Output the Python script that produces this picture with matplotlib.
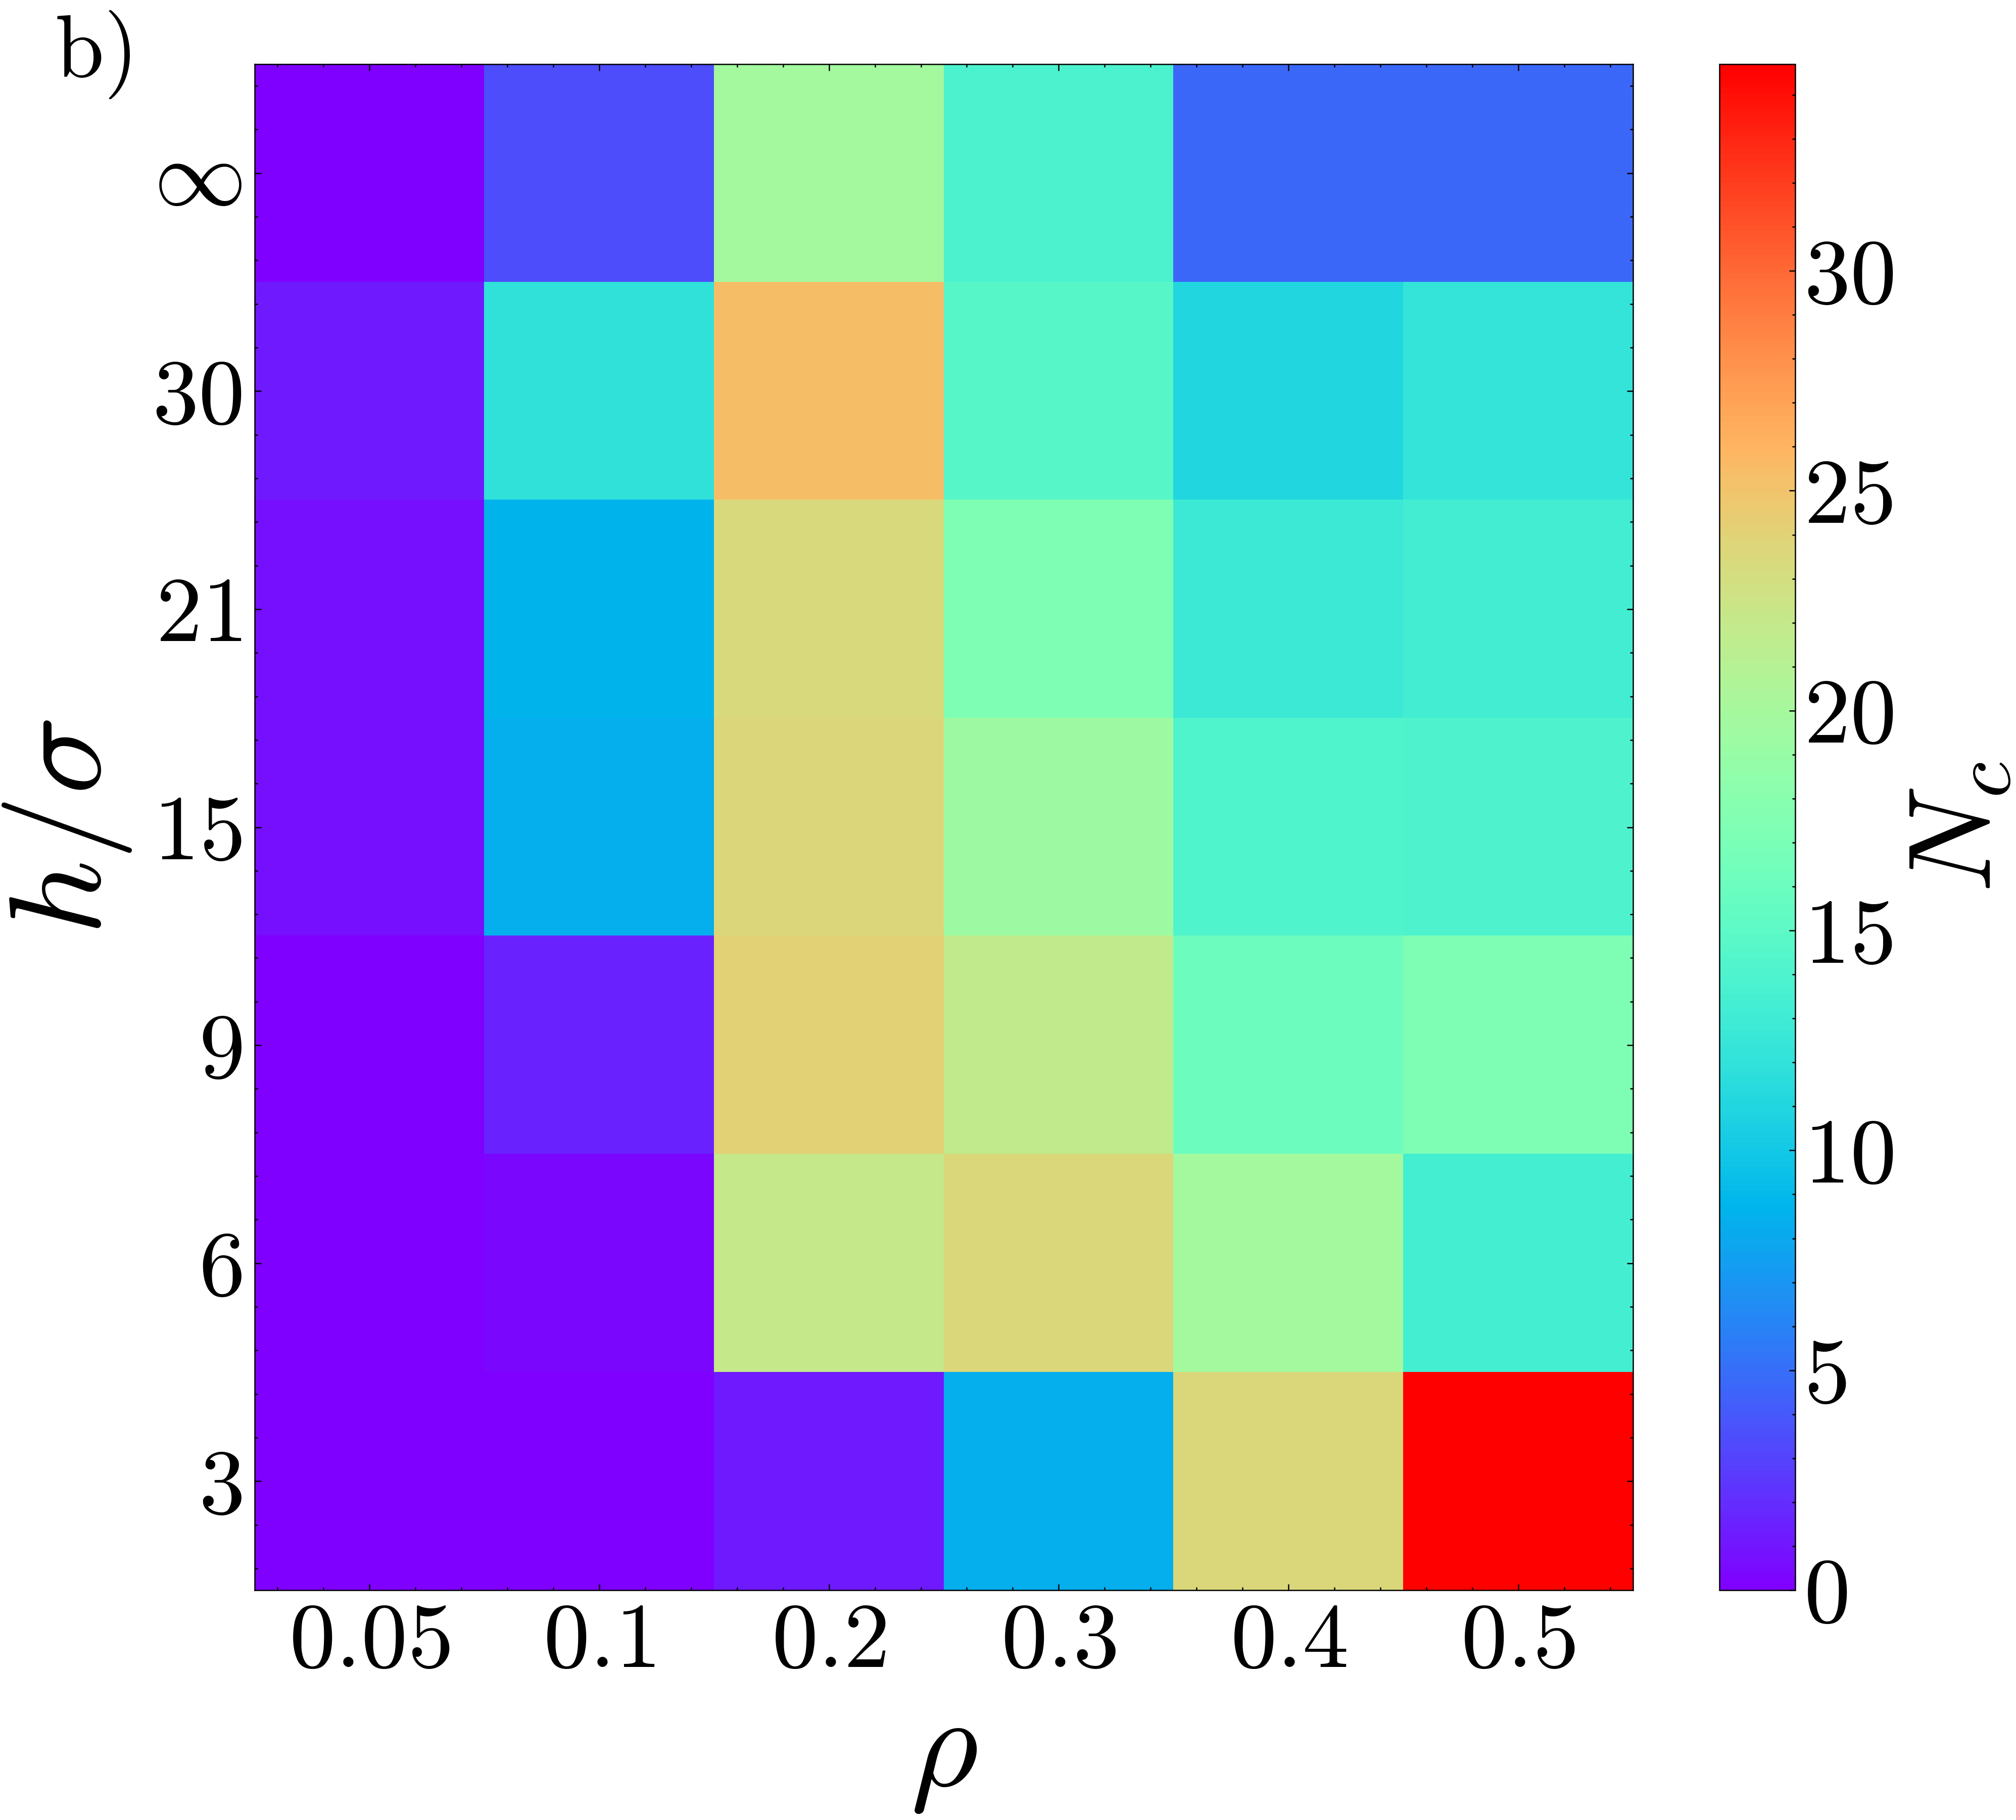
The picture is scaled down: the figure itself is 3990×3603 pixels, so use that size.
import matplotlib
matplotlib.use("Agg")
import matplotlib.pyplot as plt
import numpy as np
from matplotlib.ticker import AutoMinorLocator, MultipleLocator

plt.rcParams["mathtext.fontset"] = "cm"
plt.rcParams["font.family"] = "serif"
plt.rcParams["font.serif"] = ["cmr10", "DejaVu Serif"]
plt.rcParams["axes.formatter.use_mathtext"] = True

# Data: N_c for each (h/sigma, rho); rows top -> bottom
rho_labels = ["0.05", "0.1", "0.2", "0.3", "0.4", "0.5"]
h_labels = [r"\infty", "30", "21", "15", "9", "6", "3"]
row_inf = [0.0, 3.5, 19.8, 13.9, 4.7, 4.7]
row_30 = [1.1, 12.0, 25.4, 14.6, 11.0, 12.3]
row_21 = [0.8, 8.7, 23.4, 17.3, 12.8, 13.2]
row_15 = [0.8, 8.3, 23.6, 19.4, 14.2, 14.0]
row_9 = [0.0, 1.5, 24.1, 21.7, 16.0, 17.3]
row_6 = [0.0, 0.4, 22.0, 23.5, 19.8, 13.3]
row_3 = [0.0, 0.0, 1.1, 8.4, 23.5, 34.7]
vmax = 34.7

Nc = np.array([row_inf, row_30, row_21, row_15, row_9, row_6, row_3])

W, H = 3990, 3603
fig = plt.figure(figsize=(W / 300, H / 300), dpi=300)
ax = fig.add_axes([504 / W, 1 - 3148 / H, (3232 - 504) / W, (3148 - 127) / H])
cax = fig.add_axes([3403 / W, 1 - 3148 / H, (3553 - 3403) / W, (3148 - 127) / H])

im = ax.imshow(Nc, cmap="rainbow", vmin=0, vmax=vmax, aspect="auto",
               interpolation="nearest")

ax.set_xticks(range(len(rho_labels)))
ax.set_xticklabels([f"${s}$" for s in rho_labels])
ax.set_yticks(range(len(h_labels)))
ax.set_yticklabels([f"${s}$" for s in h_labels])
ax.xaxis.set_minor_locator(AutoMinorLocator(5))
ax.yaxis.set_minor_locator(AutoMinorLocator(5))
ax.tick_params(which="both", direction="in", top=True, right=True,
               width=0.6, labelsize=44)
ax.tick_params(which="major", length=3, pad=6)
ax.tick_params(which="minor", length=1.5)
for s in ax.spines.values():
    s.set_linewidth(0.6)

ax.set_xlabel(r"$\rho$", fontsize=62, labelpad=7)
ax.set_ylabel(r"$h/\sigma$", fontsize=62, labelpad=9)

cb = fig.colorbar(im, cax=cax)
cb.set_ticks(MultipleLocator(5))
cb.ax.yaxis.set_minor_locator(MultipleLocator(1))
cb.ax.yaxis.set_major_formatter(matplotlib.ticker.FuncFormatter(lambda v, p: f"${v:.0f}$"))
cb.ax.tick_params(which="both", direction="in", width=0.6, labelsize=44, pad=4)
cb.ax.tick_params(which="major", length=3)
cb.ax.tick_params(which="minor", length=1.5)
cb.outline.set_linewidth(0.6)
cb.set_label(r"$N_c$", fontsize=56, labelpad=7)

fig.text(0.027, 0.995, r"$\mathrm{b)}$", fontsize=42, va="top", ha="left")

fig.savefig("out.png", dpi=300)
